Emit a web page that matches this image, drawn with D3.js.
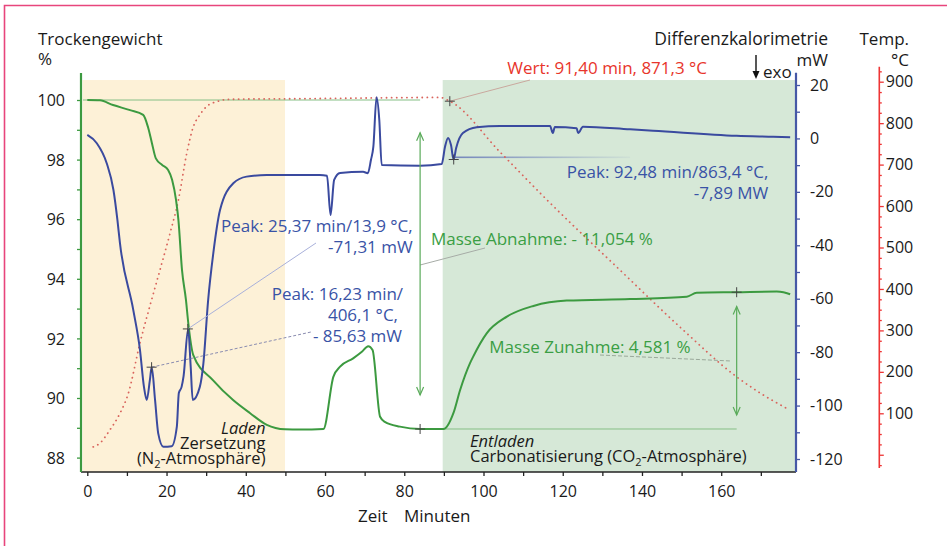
<!DOCTYPE html>
<html>
<head>
<meta charset="utf-8">
<script src="https://cdn.jsdelivr.net/npm/d3@7"></script>
<style>
  body { margin: 0; background: #fff; }
  svg text { font-family: "Open Sans", sans-serif; }
</style>
</head>
<body>
<div id="chart"></div>
<script>
// Trockengewicht (%), Zeit in Minuten
const gewichtZeit = [0, 3.2, 6.5, 10.8, 14.1, 15.3, 16.3, 17.3, 18.9, 20.4, 21.4, 22.4, 23.0, 23.9, 24.9, 25.5, 26.75,
  31.7, 36.8, 41.1, 45.3, 49.9, 53.7, 59.6, 62.1, 63.8, 67.1, 69.3, 70.9, 72.0, 73.9, 75.1, 78.9, 84.0, 89.9,
  92.4, 94.1, 96.6, 97.4, 100.8, 105.9, 112.6, 121.0, 137.0, 151.3, 153.8, 163.9, 174.0, 175.7, 177.4];
const gewichtWert = [100, 99.99, 99.83, 99.66, 99.5, 99.1, 98.56, 98.04, 97.82, 97.65, 97.32, 96.64, 95.97, 94.3, 93.29, 92.5, 91.44,
  90.6, 89.93, 89.49, 89.1, 88.95, 88.94, 88.96, 90.71, 91.05, 91.33, 91.55, 91.74, 91.61, 89.37, 89.2, 89.04, 88.96, 88.96,
  89.49, 90.27, 91.17, 91.39, 92.17, 92.73, 93.09, 93.27, 93.32, 93.4, 93.53, 93.55, 93.57, 93.55, 93.48];

// Differenzkalorimetrie (mW)
const dscZeit = [0, 2.4, 4.9, 6.6, 7.6, 8.25, 11.6, 13.3, 14.3, 15.0, 15.8, 16.25, 17.1, 17.9, 19.2, 21.3, 22.6, 23.1, 23.8,
  24.3, 25.45, 26.1, 26.6, 28.4, 29.3, 30.5, 31.8, 33.5, 36.85, 40.2, 45.3, 58.7, 60.5, 61.4, 62.3, 63.8, 69.6, 70.8, 71.6,
  72.2, 73.0, 73.7, 74.3, 84.0, 89.45, 90.3, 91.05, 91.8, 92.45, 93.1, 94.8, 98.3, 104.2, 116.8, 117.5, 118.0, 123.5, 123.9,
  125.1, 137.0, 142.8, 163.9, 173.1, 177.4];
const dscWert = [1.3, -1.8, -9.3, -19.3, -30.5, -39.3, -64.2, -79.2, -93, -97.9, -90.4, -85.6, -97.9, -110.4, -115.4, -115.2, -107.9, -95.3, -93,
  -89, -71.3, -85.5, -97.9, -93, -84.2, -60.5, -43, -26.8, -16.8, -14.3, -13.7, -13.7, -14, -28.7, -15.5, -12.9, -12.5, -13, -8,
  -3.1, 15.4, 6.9, -9.95, -10.2, -9.6, -3, 0.2, -2.5, -7.9, -3.6, 2, 4.2, 4.65, 4.65, 2, 4.3, 3.8, 2,
  4.4, 3.4, 2.9, 1, 0.6, 0.4];

// Temperatur (°C)
const tempZeit = [1.5, 3.2, 5.7, 8.25, 10.35, 13.3, 15.8, 18.35, 20.9, 23.0, 25.1, 26.75, 28.4, 30.1, 32.7, 35.2, 38.5, 53.7,
  89.0, 91.5, 104.2, 116.0, 134.4, 149.6, 163.9, 169.8, 176.5];
const tempWert = [19, 28, 60, 100, 148, 270, 359, 446, 535, 615, 727, 791, 820, 840, 852, 857, 858, 859,
  862, 853, 730, 615, 446, 308, 188, 149, 112];

// Achsen
const zeitTicks = [0, 20, 40, 60, 80, 100, 120, 140, 160];
const gewichtTicks = [88, 90, 92, 94, 96, 98, 100];
const dscTicks = [-120, -100, -80, -60, -40, -20, 0, 20];
const tempTicks = [100, 200, 300, 400, 500, 600, 700, 800, 900];

// Bereiche (Laden / Entladen)
const phaseVon = [-1.2, 89.7];
const phaseBis = [49.9, 178.9];
const phaseFarbe = ["#fdf1d7", "#d6e8d7"];

// Markierungen
const peakZeit = [16.23, 25.37, 92.48];
const peakWert = [-85.63, -71.31, -7.89];
const wertZeit = 91.5, wertTemp = 853;
const masseZeit = [84.0, 163.9];
const masseVon = [100, 88.96];
const masseBis = [88.96, 93.55];
const pfeilOben = [98.9, 93.07];
const pfeilUnten = [90.1, 89.43];

const W = 947, H = 546;
const svg = d3.select("#chart").append("svg").attr("width", W).attr("height", H);

const x = d3.scaleLinear().domain([0, 180]).range([87.3, 87.3 + 180 * 3.962]);
const yL = d3.scaleLinear().domain([88, 100]).range([457.6, 100]);
const yB = d3.scaleLinear().domain([-120, 20]).range([459, 85]);
const yR = d3.scaleLinear().domain([100, 900]).range([413.3, 81.7]);

const grün = "#3c9a40", blau = "#3a4a9f", rot = "#d9645c";
const axisY = 472;

// Rahmen
svg.append("path").attr("d", "M4.5,546 V5.5 H947")
  .attr("fill", "none").attr("stroke", "#e8457c").attr("stroke-width", 1.6);

// Hintergrundbereiche
svg.selectAll("rect.phase").data(phaseVon).enter().append("rect")
  .attr("class", "phase")
  .attr("x", (d) => x(d))
  .attr("y", yL(100.67))
  .attr("width", (d, i) => x(phaseBis[i]) - x(d))
  .attr("height", (d) => axisY - yL(100.67))
  .attr("fill", (d, i) => phaseFarbe[i]);

// Hilfslinien Masse
svg.append("line")
  .attr("x1", x(-1.1)).attr("x2", x(masseZeit[0]))
  .attr("y1", yL(100)).attr("y2", yL(100))
  .attr("stroke", "#86bf86").attr("stroke-width", 1);
svg.append("line")
  .attr("x1", x(masseZeit[0])).attr("x2", x(masseZeit[1]))
  .attr("y1", yL(88.96)).attr("y2", yL(88.96))
  .attr("stroke", "#86bf86").attr("stroke-width", 1);

// Peak-Basislinie (verblassend)
const defs = svg.append("defs");
const grad = defs.append("linearGradient").attr("id", "fade");
grad.append("stop").attr("offset", "0%").attr("stop-color", "#4a5cb0").attr("stop-opacity", 0.7);
grad.append("stop").attr("offset", "100%").attr("stop-color", "#4a5cb0").attr("stop-opacity", 0.05);
svg.append("rect")
  .attr("x", x(peakZeit[2])).attr("y", yB(peakWert[2]) - 3)
  .attr("width", x(137) - x(peakZeit[2])).attr("height", 1.6)
  .attr("fill", "url(#fade)");

// Kurven
const lineGewicht = d3.line().x((d, i) => x(gewichtZeit[i])).y((d) => yL(d)).curve(d3.curveMonotoneX);
const lineDsc = d3.line().x((d, i) => x(dscZeit[i])).y((d) => yB(d)).curve(d3.curveMonotoneX);
const lineTemp = d3.line().x((d, i) => x(tempZeit[i])).y((d) => yR(d)).curve(d3.curveMonotoneX);

svg.append("path").datum(tempWert).attr("d", lineTemp)
  .attr("fill", "none").attr("stroke", rot).attr("stroke-width", 1.8)
  .attr("stroke-dasharray", "0.1,5").attr("stroke-linecap", "round");

svg.append("path").datum(gewichtWert).attr("d", lineGewicht)
  .attr("fill", "none").attr("stroke", grün).attr("stroke-width", 2);

svg.append("path").datum(dscWert).attr("d", lineDsc)
  .attr("fill", "none").attr("stroke", blau).attr("stroke-width", 2);

// Hinweislinien
function leader(x1, y1, x2, y2, color, dash) {
  svg.append("line").attr("x1", x1).attr("y1", y1).attr("x2", x2).attr("y2", y2)
    .attr("stroke", color).attr("stroke-width", 1)
    .attr("stroke-dasharray", dash || null);
}
leader(x(wertZeit), yR(wertTemp), 530, 80, "#c9a89e");
leader(x(peakZeit[1]), yB(peakWert[1]), 316, 243, "#a8b0da");
leader(x(peakZeit[0]), yB(peakWert[0]), 311, 332, "#8a8cb0", "3,2");
leader(x(masseZeit[0]), 265, 485, 248, "#a6aca6");
leader(600, 355, 731, 361, "#9aa89a", "4,2");

// Pfeile Masse Abnahme / Zunahme
masseZeit.forEach((t, i) => {
  const px = x(t), top = yL(pfeilOben[i]), bot = yL(pfeilUnten[i]);
  const g = svg.append("g").attr("stroke", "#5aab5a").attr("stroke-width", 1.2).attr("fill", "none");
  g.append("line").attr("x1", px).attr("x2", px).attr("y1", top).attr("y2", bot);
  g.append("path").attr("d", `M${px - 3.5},${top + 8} L${px},${top} L${px + 3.5},${top + 8}`);
  g.append("path").attr("d", `M${px - 3.5},${bot - 8} L${px},${bot} L${px + 3.5},${bot - 8}`);
});

// Kreuze
function cross(cx, cy) {
  svg.append("path").attr("d", `M${cx - 5},${cy} H${cx + 5} M${cx},${cy - 5} V${cy + 5}`)
    .attr("stroke", "#444").attr("stroke-width", 1);
}
peakZeit.forEach((t, i) => cross(x(t), yB(peakWert[i])));
cross(x(wertZeit), yR(wertTemp));
cross(x(masseZeit[0]), yL(masseVon[1]));
cross(x(masseZeit[1]), yL(masseBis[1]));

// Achsen
function styleAxis(g, color) {
  g.select(".domain").remove();
  g.selectAll(".tick line").attr("stroke", color).attr("stroke-width", 1.3);
  g.selectAll(".tick text").attr("fill", "#1a1a1a").style("font-size", "16px")
    .style("font-family", "'Open Sans', sans-serif");
}

// x-Achse
const gx = svg.append("g").attr("transform", `translate(0,${axisY})`)
  .call(d3.axisBottom(x).tickValues(d3.range(0, 171, 10))
    .tickFormat((d) => zeitTicks.includes(d) ? d : "").tickSize(4).tickSizeOuter(0));
styleAxis(gx, "#222");
gx.selectAll(".tick text").attr("dy", null).attr("y", 24.5);
svg.append("line").attr("x1", 81).attr("x2", 796).attr("y1", axisY).attr("y2", axisY)
  .attr("stroke", "#222").attr("stroke-width", 1.6);

// linke Achse (Trockengewicht)
const gl = svg.append("g").attr("transform", "translate(81,0)")
  .call(d3.axisLeft(yL).tickValues(d3.range(88, 100.5, 1))
    .tickFormat((d) => gewichtTicks.includes(d) ? d : "").tickSize(4).tickPadding(12));
styleAxis(gl, grün);
gl.selectAll(".tick text").attr("dy", "0.36em");
svg.append("line").attr("x1", 81).attr("x2", 81).attr("y1", 73).attr("y2", axisY)
  .attr("stroke", grün).attr("stroke-width", 2.2);

// blaue Achse (DSC)
const gb = svg.append("g").attr("transform", "translate(796,0)")
  .call(d3.axisRight(yB).tickValues(d3.range(-120, 21, 10))
    .tickFormat((d) => dscTicks.includes(d) ? String(d) : "").tickSize(4).tickPadding(10));
styleAxis(gb, "#4658a6");
svg.append("line").attr("x1", 796).attr("x2", 796).attr("y1", 72.7).attr("y2", axisY)
  .attr("stroke", "#4658a6").attr("stroke-width", 2.2);

// rote Achse (Temperatur)
const gr = svg.append("g").attr("transform", "translate(879.3,0)")
  .call(d3.axisRight(yR).tickValues(d3.range(-25, 926, 25))
    .tickFormat((d) => tempTicks.includes(d) ? d : "").tickSize(4.5).tickPadding(2));
styleAxis(gr, "#ee3535");
gr.selectAll(".tick line").filter((d) => d % 100 !== 0).attr("x2", 2.5);
svg.append("line").attr("x1", 879.3).attr("x2", 879.3).attr("y1", 66.7).attr("y2", 468)
  .attr("stroke", "#ee3535").attr("stroke-width", 1.6);

// Texte
function label(txt, tx, ty, opts = {}) {
  const t = svg.append("text").attr("x", tx).attr("y", ty)
    .attr("fill", opts.fill || "#1a1a1a")
    .style("font-size", (opts.size || 17) + "px")
    .attr("text-anchor", opts.anchor || "start")
    .style("font-style", opts.italic ? "italic" : "normal");
  t.text(txt);
  return t;
}
function labelSub(pre, sub, post, tx, ty, anchor) {
  const t = svg.append("text").attr("x", tx).attr("y", ty).attr("fill", "#1a1a1a")
    .style("font-size", "16.5px").attr("text-anchor", anchor || "start");
  t.append("tspan").text(pre);
  t.append("tspan").text(sub).attr("dy", 4).style("font-size", "11px");
  t.append("tspan").text(post).attr("dy", -4);
}

label("Trockengewicht", 38, 45);
label("%", 38, 65);
label("Differenzkalorimetrie", 828, 45, { anchor: "end", size: 17.5 });
label("mW", 828, 66, { anchor: "end" });
label("Temp.", 909, 45, { anchor: "end" });
label("°C", 909, 66, { anchor: "end" });
label("exo", 763, 78);
svg.append("line").attr("x1", 756).attr("x2", 756).attr("y1", 55).attr("y2", 72)
  .attr("stroke", "#111").attr("stroke-width", 1.4);
svg.append("path").attr("d", "M752.5,71 L759.5,71 L756,79 Z").attr("fill", "#111");

label("Zeit", 358, 522);
label("Minuten", 404, 522);

label("Laden", 265.5, 434, { anchor: "end", italic: true, size: 16.5 });
label("Zersetzung", 265.5, 449, { anchor: "end", size: 16.5 });
labelSub("(N", "2", "-Atmosphäre)", 265.5, 464, "end");
label("Entladen", 470, 446.7, { italic: true, size: 16.5 });
labelSub("Carbonatisierung (CO", "2", "-Atmosphäre)", 470, 462.3);

const blauText = "#3953a6", grünText = "#3a9e44", rotText = "#e8352b";
label("Peak: 25,37 min/13,9 °C,", 412.7, 232, { anchor: "end", fill: blauText });
label("-71,31 mW", 412.7, 253, { anchor: "end", fill: blauText });
label("Peak: 16,23 min/", 271.7, 300, { fill: blauText });
label("406,1 °C,", 398, 321, { anchor: "end", fill: blauText });
label("- 85,63 mW", 402, 342, { anchor: "end", fill: blauText });
label("Peak: 92,48 min/863,4 °C,", 768.3, 178.3, { anchor: "end", fill: blauText });
label("-7,89 MW", 768.3, 198.5, { anchor: "end", fill: blauText });

label("Masse Abnahme: - 11,054 %", 431, 245, { fill: grünText });
label("Masse Zunahme: 4,581 %", 489.3, 353, { fill: grünText });
label("Wert: 91,40 min, 871,3 °C", 507.3, 74, { fill: rotText });
</script>
</body>
</html>
